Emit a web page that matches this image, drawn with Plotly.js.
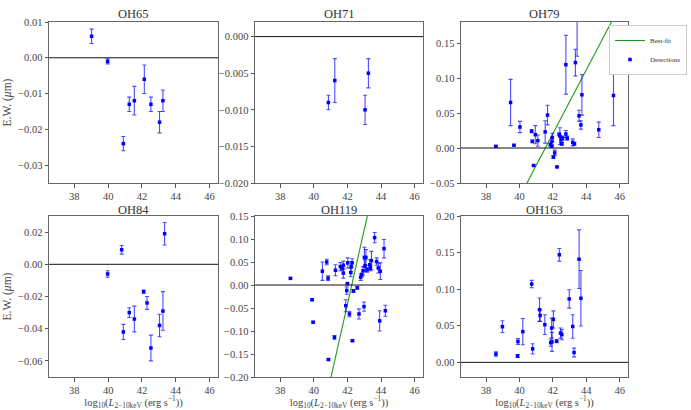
<!DOCTYPE html>
<html>
<head>
<meta charset="utf-8">
<script src="https://cdn.plot.ly/plotly-3.0.1.min.js"></script>
<style>
  html, body { margin: 0; padding: 0; background: #fff; }
  #chart { width: 691px; height: 410px; }
</style>
</head>
<body>
<div id="chart"></div>
<script>
// panel names
var panels = ['OH65', 'OH71', 'OH79', 'OH84', 'OH119', 'OH163'];

// OH65
var x65 = [39.02, 39.97, 40.90, 41.25, 41.55, 42.14, 42.53, 43.04, 43.24];
var y65 = [0.006, -0.001, -0.024, -0.013, -0.012, -0.006, -0.013, -0.018, -0.012];
var e65 = [0.002, 0.0007, 0.002, 0.002, 0.004, 0.004, 0.002, 0.003, 0.003];

// OH71
var x71 = [40.87, 41.25, 43.05, 43.25];
var y71 = [-0.009, -0.006, -0.010, -0.005];
var e71 = [0.001, 0.003, 0.002, 0.002];

// OH79
var x79 = [38.59, 39.47, 39.67, 40.03, 40.73, 40.77, 40.85, 40.95, 41.10, 41.54,
           41.68, 41.85, 41.93, 41.95, 41.97, 42.03, 42.11, 42.25, 42.38, 42.42,
           42.50, 42.54, 42.58, 42.78, 42.78, 42.86, 43.19, 43.29, 43.35, 43.45,
           43.57, 43.68, 43.74, 44.75, 45.63];
var y79 = [0.0024, 0.065, 0.004, 0.030, 0.024, 0.0095, -0.025, 0.019, 0.0105, 0.023,
           0.047, 0.005, 0.0024, 0.0095, 0.015, -0.013, -0.007, -0.027, 0.0195, 0.017,
           0.012, 0.006, 0.014, 0.119, 0.020, 0.014, 0.008, 0.006, 0.122, 0.200,
           0.046, 0.033, 0.076, 0.026, 0.075];
var e79 = [0.001, 0.033, 0.001, 0.008, 0.002, 0.002, 0.001, 0.013, 0.008, 0.016,
           0.014, 0.002, 0.001, 0.005, 0.006, 0.002, 0.004, 0.001, 0.002, 0.012,
           0.004, 0.002, 0.003, 0.042, 0.005, 0.003, 0.005, 0.002, 0.019, 0.069,
           0.008, 0.006, 0.029, 0.011, 0.043];

// OH84
var x84 = [39.97, 40.80, 40.90, 41.25, 41.55, 42.10, 42.30, 42.53, 43.04, 43.24, 43.34];
var y84 = [-0.006, 0.009, -0.042, -0.030, -0.034, -0.017, -0.024, -0.052, -0.038, -0.029, 0.019];
var e84 = [0.002, 0.0027, 0.0047, 0.003, 0.008, 0.001, 0.004, 0.008, 0.007, 0.012, 0.007];

// OH119
var x119 = [38.61, 39.90, 39.96, 40.51, 40.77, 40.85, 40.87, 41.23, 41.29, 41.58,
            41.68, 41.76, 41.76, 41.90, 41.96, 42.00, 42.02, 42.12, 42.20, 42.22,
            42.28, 42.30, 42.36, 42.59, 42.69, 42.79, 42.85, 42.93, 42.99, 43.01,
            43.05, 43.10, 43.17, 43.33, 43.37, 43.43, 43.62, 43.74, 43.84, 43.92,
            43.96, 44.18, 44.26];
var y119 = [0.0144, -0.032, -0.081, 0.030, 0.050, 0.015, -0.162, -0.114, 0.032, 0.040,
            0.037, 0.026, 0.043, -0.045, -0.012, 0.003, 0.048, -0.063, 0.027, 0.040,
            0.048, -0.121, -0.013, -0.006, -0.063, 0.017, 0.022, 0.031, -0.047, 0.060,
            0.042, 0.060, 0.033, 0.044, 0.037, 0.053, 0.103, 0.051, 0.037, -0.078,
            0.030, 0.079, -0.056];
var e119 = [0.002, 0.002, 0.002, 0.020, 0.006, 0.005, 0.002, 0.004, 0.012, 0.009,
            0.005, 0.011, 0.009, 0.013, 0.008, 0.002, 0.011, 0.006, 0.009, 0.011,
            0.009, 0.002, 0.003, 0.003, 0.011, 0.007, 0.004, 0.009, 0.010, 0.022,
            0.013, 0.017, 0.005, 0.011, 0.006, 0.020, 0.011, 0.008, 0.011, 0.022,
            0.018, 0.020, 0.012];

// OH163
var x163 = [38.59, 38.98, 39.91, 39.89, 40.20, 40.73, 40.79, 41.20, 41.24, 41.52,
            41.87, 41.93, 41.95, 42.03, 42.23, 42.39, 42.46, 42.54, 42.98, 43.19,
            43.27, 43.57, 43.68];
var y163 = [0.0113, 0.0488, 0.0284, 0.0086, 0.042, 0.107, 0.0185, 0.072, 0.064, 0.0515,
            0.027, 0.047, 0.028, 0.0587, 0.029, 0.147, 0.040, 0.038, 0.0867, 0.049,
            0.0135, 0.141, 0.0876];
var e163 = [0.003, 0.008, 0.004, 0.002, 0.018, 0.005, 0.007, 0.016, 0.008, 0.0135,
            0.005, 0.0135, 0.013, 0.0117, 0.002, 0.0086, 0.007, 0.007, 0.0126, 0.016,
            0.006, 0.040, 0.038];

// best-fit lines (slope, zero crossing) for OH79 and OH119
var fit79 = {slope: 0.0455, x0: 41.55};
var fit119 = {slope: 0.162, x0: 42.26};
var xRange = [36.5, 46.5];

var yRanges = [[-0.035, 0.01], [-0.020, 0.002], [-0.05, 0.18],
               [-0.07, 0.03], [-0.20, 0.15], [-0.02, 0.20]];
var yDticks = [0.01, 0.005, 0.05, 0.02, 0.05, 0.05];
var yFormats = ['.2f', '.3f', '.2f', '.2f', '.2f', '.2f'];

var sets = [[x65, y65, e65], [x71, y71, e71], [x79, y79, e79],
            [x84, y84, e84], [x119, y119, e119], [x163, y163, e163]];

var xDomains = [[49/691, 218/691], [255/691, 423/691], [461/691, 628/691]];
var yDomains = [[1 - 183/410, 1 - 22/410], [1 - 377/410, 1 - 216/410]];

var serif = 'Liberation Serif';
var traces = [];
var layout = {
  width: 691, height: 410,
  margin: {l: 0, r: 0, t: 0, b: 0},
  paper_bgcolor: '#fff', plot_bgcolor: '#fff',
  font: {family: serif, color: '#333', size: 10},
  showlegend: true,
  legend: {
    x: 687/691, y: 1 - 25/410, xanchor: 'right', yanchor: 'top',
    bgcolor: '#fff', bordercolor: '#ccc', borderwidth: 1,
    font: {family: serif, size: 7, color: '#333'},
    itemwidth: 30, tracegroupgap: 0
  },
  annotations: [],
  shapes: []
};

function fitLine(f) {
  return xRange.map(function (x) { return f.slope * (x - f.x0); });
}

sets.forEach(function (s, i) {
  var n = i + 1;
  var xa = 'x' + (n === 1 ? '' : n);
  var ya = 'y' + (n === 1 ? '' : n);
  var col = i % 3, row = Math.floor(i / 3);

  var xaxis = {
    domain: xDomains[col], range: xRange, anchor: ya,
    dtick: 2, tick0: 38, ticks: 'outside', ticklen: 3.5, tickcolor: '#555',
    showgrid: false, zeroline: false, showline: true, mirror: true,
    linecolor: '#666', linewidth: 1,
    tickfont: {family: serif, size: 10.5, color: '#444'}
  };
  if (row === 1) {
    xaxis.title = {
      text: 'log<sub>10</sub>(<i>L</i><sub>2\u221210keV</sub> (erg s<sup>\u22121</sup>))',
      font: {family: serif, size: 10.5, color: '#444'}, standoff: 6
    };
  }
  var yaxis = {
    domain: yDomains[row], range: yRanges[i], anchor: xa,
    dtick: yDticks[i], tickformat: yFormats[i], ticks: 'outside', ticklen: 3.5,
    tickcolor: '#555', showgrid: false, zeroline: false, showline: true, mirror: true,
    linecolor: '#666', linewidth: 1,
    tickfont: {family: serif, size: 10.5, color: '#444'}
  };
  if (col === 0) {
    yaxis.title = {
      text: 'E.W. (<i>\u03bc</i>m)',
      font: {family: serif, size: 11.5, color: '#444'}, standoff: 4
    };
  }
  layout['xaxis' + (n === 1 ? '' : n)] = xaxis;
  layout['yaxis' + (n === 1 ? '' : n)] = yaxis;

  // horizontal zero line
  layout.shapes.push({
    type: 'line', xref: xa + ' domain', yref: ya,
    x0: 0, x1: 1, y0: 0, y1: 0,
    line: {color: '#111', width: 1}
  });

  // panel title
  layout.annotations.push({
    text: panels[i], xref: xa + ' domain', yref: ya + ' domain',
    x: 0.5, y: 1, xanchor: 'center', yanchor: 'bottom', yshift: row === 1 ? -3 : -1,
    showarrow: false, font: {family: serif, size: 12.5, color: '#333', weight: 400}
  });

  if (i === 2 || i === 4) {
    var f = i === 2 ? fit79 : fit119;
    traces.push({
      x: xRange, y: fitLine(f), xaxis: xa, yaxis: ya,
      mode: 'lines', type: 'scatter', name: 'Best-fit',
      line: {color: '#1f9a1f', width: 1.1},
      legendgroup: 'fit', showlegend: i === 2, hoverinfo: 'skip'
    });
  }

  traces.push({
    x: s[0], y: s[1], xaxis: xa, yaxis: ya,
    mode: 'markers', type: 'scatter', name: 'Detections',
    marker: {color: '#0000ff', size: 3.5, symbol: 'square'},
    error_y: {type: 'data', array: s[2], visible: true,
              color: 'rgba(0,0,255,0.7)', thickness: 1.1, width: 2},
    legendgroup: 'det', showlegend: i === 2
  });
});

Plotly.newPlot('chart', traces, layout, {staticPlot: true, displayModeBar: false});
</script>
</body>
</html>
